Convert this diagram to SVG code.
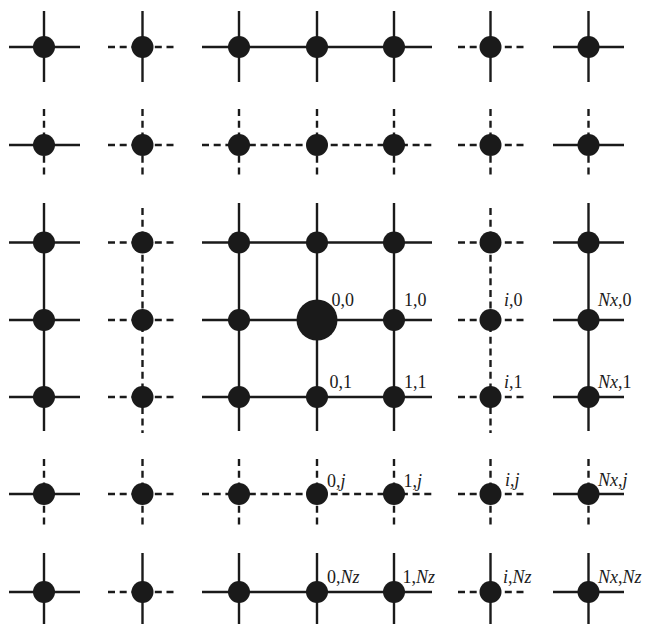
<svg xmlns="http://www.w3.org/2000/svg" width="647" height="624" viewBox="0 0 647 624">
<style>
.s{stroke:#1a1a1a;stroke-width:2.4;fill:none}
.d{stroke:#1a1a1a;stroke-width:2.4;fill:none;stroke-dasharray:7 4.7}
.n{fill:#1a1a1a}
text{font-family:"Liberation Serif","Times New Roman",serif;font-size:18px;fill:#1a1a1a}
.it{font-style:italic}
</style>
<rect width="647" height="624" fill="#fff"/>
<g id="connectors">
<!-- horizontal: column A solid arms -->
<path class="s" d="M9 47H80M9 145H80M9 242.5H80M9 320H80M9 397H80M9 494H80M9 592H80"/>
<!-- column B dashed arms -->
<path class="d" d="M108 47H176M108 145H176M108 242.5H176M108 320H176M108 397H176M108 494H176M108 592H176"/>
<!-- interior rows -->
<path class="s" d="M202 47H432M202 242.5H432M202 320H432M202 397H432M202 592H432"/>
<path class="d" d="M202 145H432M202 494H432"/>
<!-- column F dashed arms -->
<path class="d" d="M458 47H524M458 145H524M458 242.5H524M458 320H524M458 397H524M458 494H524M458 592H524"/>
<!-- column G solid arms -->
<path class="s" d="M553 47H624M553 145H624M553 242.5H624M553 320H624M553 397H624M553 494H624M553 592H624"/>
<!-- vertical: row 1 solid arms -->
<path class="s" d="M44 11V82M142.5 11V82M239 11V82M317 11V82M394 11V82M490.5 11V82M588.5 11V82"/>
<!-- row 2 dashed arms -->
<path class="d" d="M44 109V177M142.5 109V177M239 109V177M317 109V177M394 109V177M490.5 109V177M588.5 109V177"/>
<!-- interior columns -->
<path class="s" d="M44 203V431M239 203V431M317 203V431M394 203V431M588.5 203V431"/>
<path class="d" d="M142.5 208V433M490.5 208V433"/>
<!-- row 6 dashed arms -->
<path class="d" d="M44 459V525M142.5 459V525M239 459V525M317 459V525M394 459V525M490.5 459V525M588.5 459V525"/>
<!-- row 7 solid arms -->
<path class="s" d="M44 553V624M142.5 553V624M239 553V624M317 553V624M394 553V624M490.5 553V624M588.5 553V624"/>
</g>
<g id="nodes">
<g id="r1"><circle class="n" cx="44" cy="47" r="11"/><circle class="n" cx="142.5" cy="47" r="11"/><circle class="n" cx="239" cy="47" r="11"/><circle class="n" cx="317" cy="47" r="11"/><circle class="n" cx="394" cy="47" r="11"/><circle class="n" cx="490.5" cy="47" r="11"/><circle class="n" cx="588.5" cy="47" r="11"/></g>
<g id="r2"><circle class="n" cx="44" cy="145" r="11"/><circle class="n" cx="142.5" cy="145" r="11"/><circle class="n" cx="239" cy="145" r="11"/><circle class="n" cx="317" cy="145" r="11"/><circle class="n" cx="394" cy="145" r="11"/><circle class="n" cx="490.5" cy="145" r="11"/><circle class="n" cx="588.5" cy="145" r="11"/></g>
<g id="r3"><circle class="n" cx="44" cy="242.5" r="11"/><circle class="n" cx="142.5" cy="242.5" r="11"/><circle class="n" cx="239" cy="242.5" r="11"/><circle class="n" cx="317" cy="242.5" r="11"/><circle class="n" cx="394" cy="242.5" r="11"/><circle class="n" cx="490.5" cy="242.5" r="11"/><circle class="n" cx="588.5" cy="242.5" r="11"/></g>
<g id="r4"><circle class="n" cx="44" cy="320" r="11"/><circle class="n" cx="142.5" cy="320" r="11"/><circle class="n" cx="239" cy="320" r="11"/>
<g id="node-0-0"><circle class="n" cx="317" cy="320" r="20.5"/><text x="331.5" y="306">0,0</text></g>
<g id="node-1-0"><circle class="n" cx="394" cy="320" r="11"/><text x="404" y="306">1,0</text></g>
<g id="node-i-0"><circle class="n" cx="490.5" cy="320" r="11"/><text x="504" y="306"><tspan class="it">i</tspan>,0</text></g>
<g id="node-Nx-0"><circle class="n" cx="588.5" cy="320" r="11"/><text x="598" y="306"><tspan class="it">Nx</tspan>,0</text></g></g>
<g id="r5"><circle class="n" cx="44" cy="397" r="11"/><circle class="n" cx="142.5" cy="397" r="11"/><circle class="n" cx="239" cy="397" r="11"/>
<g id="node-0-1"><circle class="n" cx="317" cy="397" r="11"/><text x="329.5" y="388">0,1</text></g>
<g id="node-1-1"><circle class="n" cx="394" cy="397" r="11"/><text x="404" y="388">1,1</text></g>
<g id="node-i-1"><circle class="n" cx="490.5" cy="397" r="11"/><text x="504" y="388"><tspan class="it">i</tspan>,1</text></g>
<g id="node-Nx-1"><circle class="n" cx="588.5" cy="397" r="11"/><text x="598" y="388"><tspan class="it">Nx</tspan>,1</text></g></g>
<g id="r6"><circle class="n" cx="44" cy="494" r="11"/><circle class="n" cx="142.5" cy="494" r="11"/><circle class="n" cx="239" cy="494" r="11"/>
<g id="node-0-j"><circle class="n" cx="317" cy="494" r="11"/><text x="327" y="486.5">0,<tspan class="it">j</tspan></text></g>
<g id="node-1-j"><circle class="n" cx="394" cy="494" r="11"/><text x="403.5" y="486.5">1,<tspan class="it">j</tspan></text></g>
<g id="node-i-j"><circle class="n" cx="490.5" cy="494" r="11"/><text x="505" y="486"><tspan class="it">i</tspan>,<tspan class="it">j</tspan></text></g>
<g id="node-Nx-j"><circle class="n" cx="588.5" cy="494" r="11"/><text x="598" y="486"><tspan class="it">Nx</tspan>,<tspan class="it">j</tspan></text></g></g>
<g id="r7"><circle class="n" cx="44" cy="592" r="11"/><circle class="n" cx="142.5" cy="592" r="11"/><circle class="n" cx="239" cy="592" r="11"/>
<g id="node-0-Nz"><circle class="n" cx="317" cy="592" r="11"/><text x="327" y="582.5">0,<tspan class="it">Nz</tspan></text></g>
<g id="node-1-Nz"><circle class="n" cx="394" cy="592" r="11"/><text x="402.5" y="582.5">1,<tspan class="it">Nz</tspan></text></g>
<g id="node-i-Nz"><circle class="n" cx="490.5" cy="592" r="11"/><text x="503" y="582.5"><tspan class="it">i</tspan>,<tspan class="it">Nz</tspan></text></g>
<g id="node-Nx-Nz"><circle class="n" cx="588.5" cy="592" r="11"/><text x="598" y="582.5"><tspan class="it">Nx</tspan>,<tspan class="it">Nz</tspan></text></g></g>
</g>
</svg>
